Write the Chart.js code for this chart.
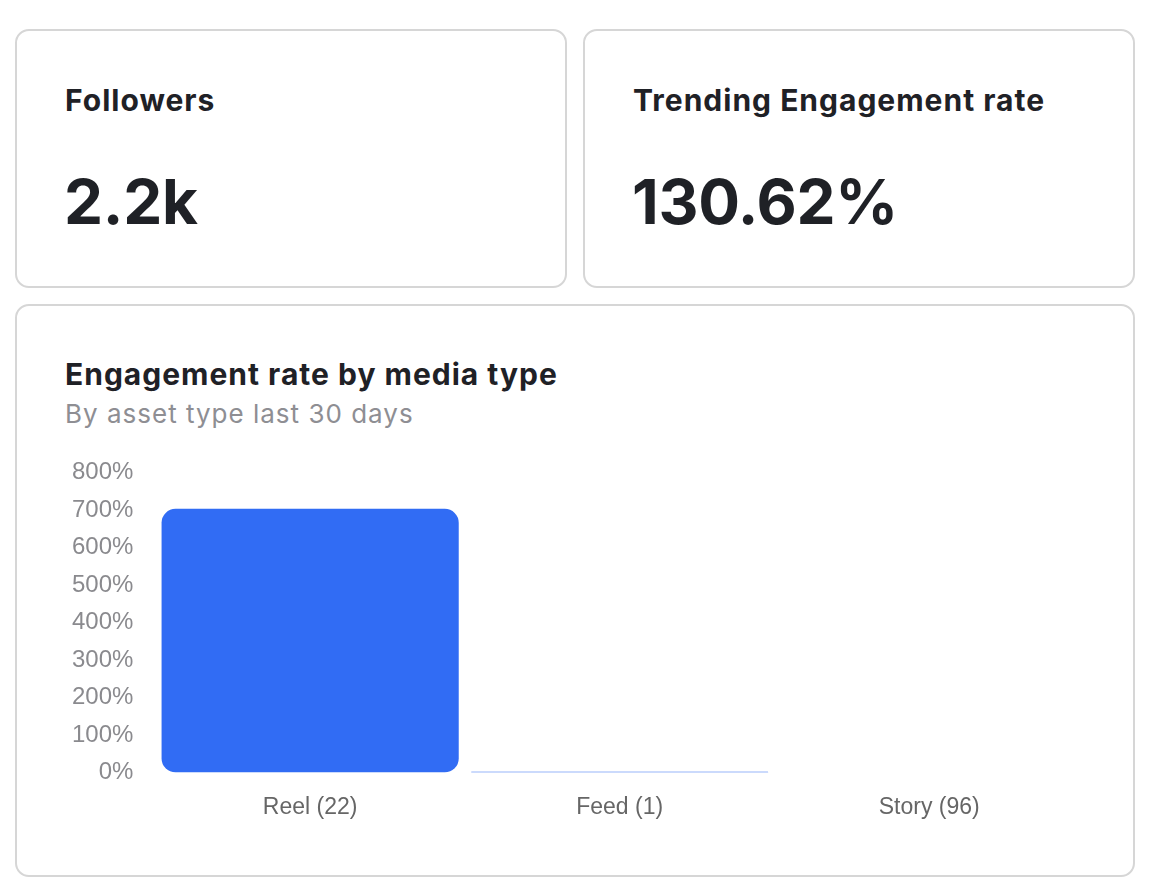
<!DOCTYPE html>
<html>
<head>
  <meta charset="utf-8">
  <title>Engagement dashboard</title>
  <script src="https://cdn.jsdelivr.net/npm/chart.js@4.4.1/dist/chart.umd.min.js"></script>
  <style>
    body { margin: 0; background: #fff; font-family: Inter, "Noto Sans", sans-serif; color: #1f2126; }
    .card { position: absolute; box-sizing: border-box; border: 2px solid #d6d6d6; border-radius: 14px; background: #fff; }
    .label { position: absolute; left: 48px; top: 51px; font-size: 30px; font-weight: 700; letter-spacing: 1px; }
    .value { position: absolute; left: 47px; top: 133px; font-size: 62px; font-weight: 700; letter-spacing: -0.3px; }
    .title { position: absolute; left: 48px; top: 50px; font-size: 30px; font-weight: 700; letter-spacing: 1px; }
    .subtitle { position: absolute; left: 48px; top: 92px; font-size: 26px; color: #8e8e93; letter-spacing: 1px; }
    .chart-box { position: absolute; left: 33px; top: 130px; width: 1034px; height: 406px; }
  </style>
</head>
<body>
  <div class="card" style="left:15px; top:29px; width:552px; height:259px;">
    <div class="label">Followers</div>
    <div class="value">2.2k</div>
  </div>
  <div class="card" style="left:583px; top:29px; width:552px; height:259px;">
    <div class="label">Trending Engagement rate</div>
    <div class="value">130.62%</div>
  </div>
  <div class="card" style="left:15px; top:304px; width:1120px; height:573px;">
    <div class="title">Engagement rate by media type</div>
    <div class="subtitle">By asset type last 30 days</div>
    <div class="chart-box"><canvas id="mediaChart"></canvas></div>
  </div>

  <script>
    // chart data
    const mediaTypes = ['Reel (22)', 'Feed (1)', 'Story (96)'];
    const engagementRates = [703, 2, 0];
    const yTicks = [0, 100, 200, 300, 400, 500, 600, 700, 800];

    const fontFamily = 'Helvetica, "Liberation Sans", Arial, sans-serif';

    const ctx = document.getElementById('mediaChart');
    new Chart(ctx, {
      type: 'bar',
      data: {
        labels: mediaTypes,
        datasets: [{
          label: 'Engagement rate',
          data: engagementRates,
          backgroundColor: '#316cf4',
          borderRadius: 14,
          borderSkipped: false,
          categoryPercentage: 1,
          barPercentage: 0.96
        }]
      },
      options: {
        responsive: true,
        maintainAspectRatio: false,
        animation: false,
        layout: { padding: 0 },
        plugins: {
          legend: { display: false },
          tooltip: { enabled: false }
        },
        scales: {
          x: {
            grid: { display: false, drawTicks: false },
            border: { display: false },
            ticks: { color: '#666', font: { family: fontFamily, size: 23 }, padding: 21 }
          },
          y: {
            min: 0,
            max: 800,
            afterBuildTicks: axis => { axis.ticks = yTicks.map(v => ({ value: v })); },
            grid: { display: false, drawTicks: false },
            border: { display: false },
            ticks: {
              color: '#8a8a8e',
              font: { family: fontFamily, size: 24 },
              padding: 22,
              callback: v => v + '%'
            }
          }
        }
      }
    });
  </script>
</body>
</html>
